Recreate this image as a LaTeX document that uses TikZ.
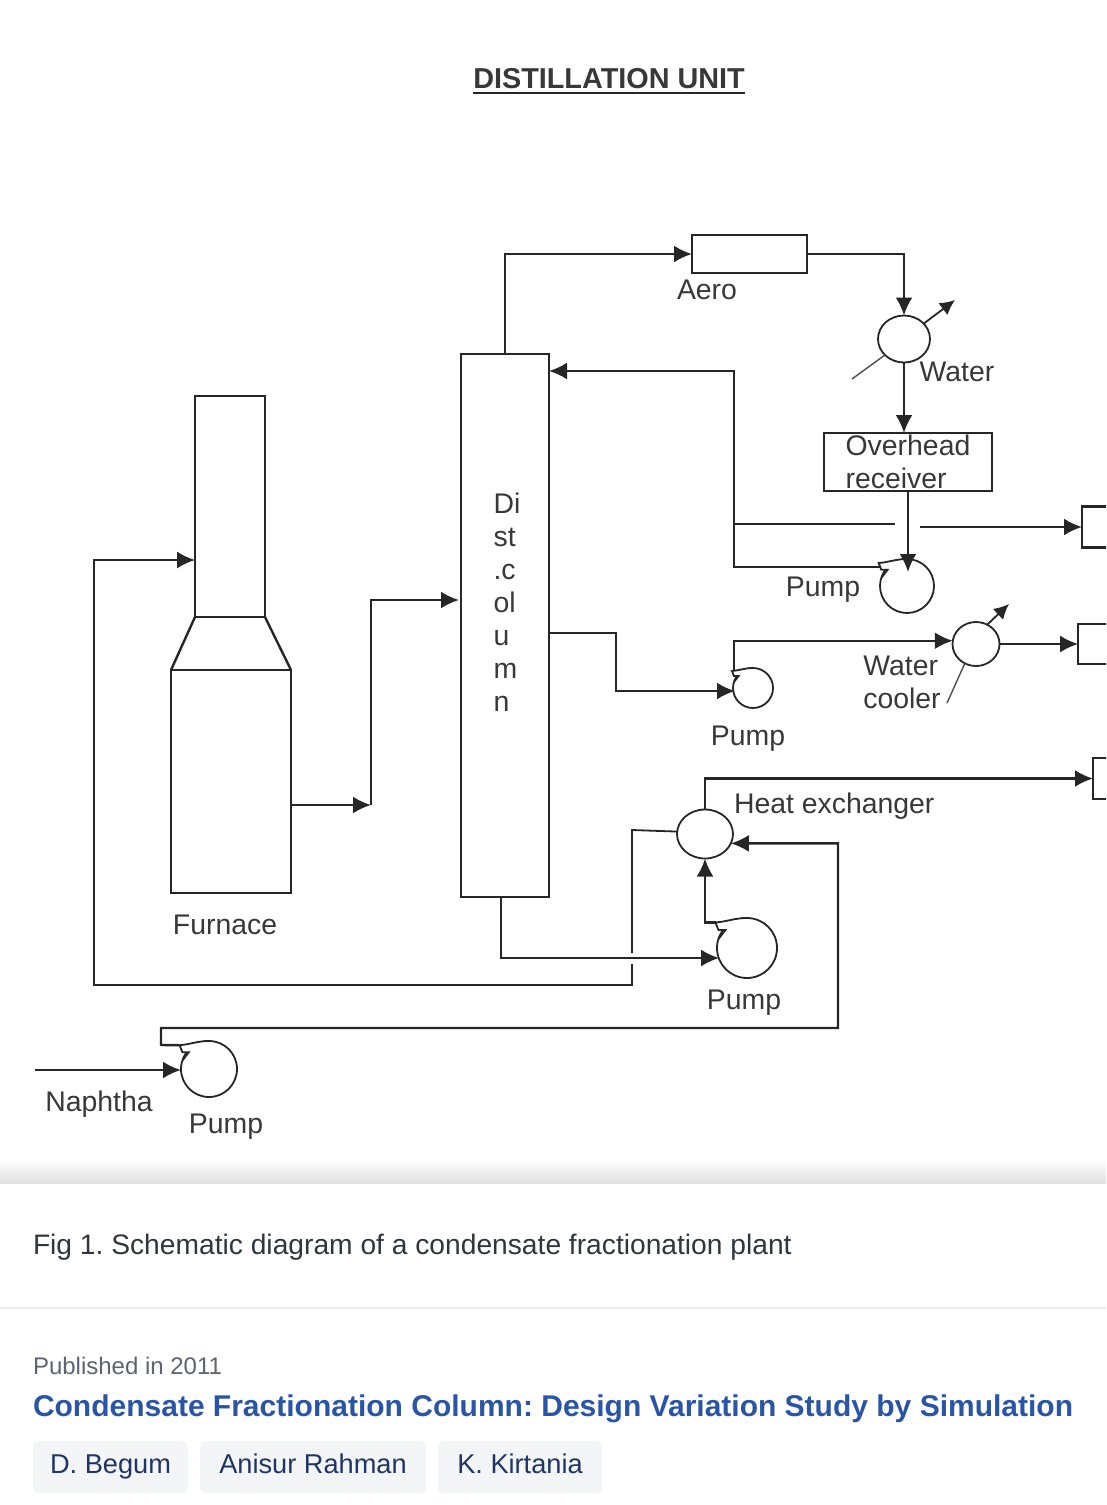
\documentclass[tikz,border=0pt]{standalone}
\usepackage{fontspec}
\setmainfont{Liberation Sans}
\usepackage{tikz}
\usetikzlibrary{arrows.meta,shapes.geometric}

\definecolor{inkgray}{HTML}{383838}
\definecolor{capgray}{HTML}{30363D}
\definecolor{pubgray}{HTML}{5B6470}
\definecolor{linkblue}{HTML}{2A55A5}
\definecolor{pillgray}{HTML}{F3F5F7}
\definecolor{pillink}{HTML}{1F3564}

\frenchspacing

\begin{document}
\begin{tikzpicture}[
    x=1pt,y=-1pt,
    line join=miter,
    every node/.style={inner sep=0pt,outer sep=0pt,text=inkgray,font=\fontsize{28.4}{33}\selectfont},
    unit/.style={draw=black!85,line width=2.4pt,rectangle},
    exch/.style={draw=black!85,line width=1.8pt,ellipse},
    pumpc/.style={draw=black!85,line width=1.8pt,circle},
    pipe/.style={draw=black!85,line width=2.4pt},
    flow/.style={pipe,-{Latex[length=18pt,width=17pt]}},
    vent/.style={draw=black!70,line width=1.4pt},
    caption/.style={anchor=west,text=capgray,font=\fontsize{28.2}{33}\selectfont},
    pill/.style={fill=pillgray,rounded corners=5pt,minimum height=52pt,text=pillink,text height=19pt,text depth=6pt,font=\fontsize{27.2}{33}\selectfont}
]
    \clip (0,0) rectangle (1106,1505);

    % heading
    \node[font=\fontsize{28.8}{33}\selectfont\bfseries] (title) at (609,79) {DISTILLATION UNIT};
    \draw[pipe] (473,93) -- (745,93);

    % units
    \node[unit,minimum width=115pt,minimum height=38pt] (aero) at (749.5,254) {};
    \node[unit,minimum width=168pt,minimum height=58pt,align=left] (recv) at (908,462) {Overhead\\receiver};
    \node[unit,minimum width=88pt,minimum height=543pt] (col) at (505,625.5) {};
    \node[align=left] (colname) at (507,602) {Di\\st\\.c\\ol\\u\\m\\n};
    \node[unit,minimum width=70pt,minimum height=221pt] (stack) at (230,506.5) {};
    \node[unit,minimum width=120pt,minimum height=223pt] (fire) at (231,781.5) {};
    \node[unit,anchor=west,minimum width=48pt,minimum height=41pt] (prodA) at (1082,527) {};
    \node[unit,anchor=west,minimum width=48pt,minimum height=40pt] (prodB) at (1078,644) {};
    \node[unit,anchor=west,minimum width=48pt,minimum height=41pt] (prodC) at (1093,778.5) {};

    \node[exch,minimum width=52pt,minimum height=47pt] (coolA) at (904,339) {};
    \node[exch,minimum width=47pt,minimum height=44pt] (coolB) at (976,644) {};
    \node[exch,minimum width=56pt,minimum height=49pt] (hx) at (705,834) {};

    \node[pumpc,minimum size=54pt] (pumpA) at (907,586) {};
    \node[pumpc,minimum size=40pt] (pumpB) at (753,688) {};
    \node[pumpc,minimum size=60pt] (pumpC) at (747,948) {};
    \node[pumpc,minimum size=56pt] (pumpD) at (209,1069) {};

    % pump nozzles
    \foreach \pmp/\xc/\yc/\rad in {pumpA/907/586/27,pumpB/753/688/20,pumpC/747/948/30,pumpD/209/1069/28}
    {
        \coordinate (\pmp tip) at (\xc-1.05*\rad,\yc-.85*\rad);
        \fill[white] (\pmp.90) -- (\pmp tip) -- (\xc-.95*\rad,\yc-.6*\rad) -- (\xc-.72*\rad,\yc-.6*\rad) -- (\xc-.95*\rad,\yc-.3*\rad) -- cycle;
        \draw[black!85,line width=1.8pt] (\pmp.90) to[out=180,in=5] (\pmp tip) -- (\xc-.95*\rad,\yc-.6*\rad) -- (\xc-.72*\rad,\yc-.6*\rad) -- (\xc-.95*\rad,\yc-.3*\rad);
    }

    % free ends and bends
    \coordinate (feedA) at (908,572);
    \coordinate (refluxS) at (880,567);
    \coordinate (refluxA) at (734,567);
    \coordinate (refluxB) at (734,371);
    \coordinate (refluxC) at (549,371);
    \coordinate (branchA) at (734,524);
    \coordinate (branchB) at (895,524);
    \coordinate (drawA) at (920,527);
    \coordinate (sideA) at (549,633);
    \coordinate (sideB) at (616,633);
    \coordinate (sideC) at (616,691);
    \coordinate (sideD) at (735,691);
    \coordinate (sideE) at (734,671);
    \coordinate (hotA) at (632,830);
    \coordinate (hotB) at (632,953);
    \coordinate (hotC) at (632,964);
    \coordinate (hotD) at (632,985);
    \coordinate (hotE) at (94,985);
    \coordinate (hotF) at (94,560);
    \coordinate (hotG) at (195,560);
    \coordinate (fireA) at (291,805);
    \coordinate (fireB) at (371,805);
    \coordinate (fireC) at (371,600);
    \coordinate (fireD) at (459,600);
    \coordinate (botA) at (501,897);
    \coordinate (botB) at (501,958);
    \coordinate (botC) at (719,958);
    \coordinate (feedB) at (161,1045);
    \coordinate (feedC) at (161,1028);
    \coordinate (feedD) at (838,1028);
    \coordinate (naph) at (35,1070);
    \coordinate (naphEnd) at (181,1070);
    \coordinate (wtrA) at (852,379);
    \coordinate (wtrB) at (955,300);
    \coordinate (wtrC) at (947,703);
    \coordinate (wtrD) at (1009,604);

    % piping
    \draw[flow] (col.north) |- (aero.west);
    \draw[flow] (aero.east) -| (coolA.north);
    \draw[flow] (coolA.south) -- (coolA.south |- recv.north);
    \draw[flow] (recv.south) -- (feedA);
    \draw[flow] (refluxS) -- (refluxA) -- (refluxB) -- (refluxC);
    \draw[pipe,line width=1.6pt] (branchA) -- (branchB);
    \draw[flow] (drawA) -- (prodA.west);
    \draw[flow] (sideA) -- (sideB) -- (sideC) -- (sideD);
    \draw[flow] (sideE) |- (coolB.172);
    \draw[flow,line width=1.8pt] (coolB.east) -- (prodB.west);
    \draw[flow] (hx.north) |- (prodC.west);
    \draw[pipe,line width=1.8pt] (hx.175) -- (hotA) -- (hotB);
    \draw[flow,line width=1.8pt] (hotC) -- (hotD) -- (hotE) -- (hotF) -- (hotG);
    \draw[flow] (fireA) -- (fireB);
    \draw[flow] (fireB) -- (fireC) -- (fireD);
    \draw[flow,line width=1.8pt] (botA) -- (botB) -- (botC);
    \draw[flow] (pumpCtip) -| (hx.south);
    \draw[flow] (pumpDtip) -- (feedB) -- (feedC) -- (feedD) |- (hx.-20);
    \draw[flow] (naph) -- (naphEnd);

    % furnace hood
    \draw[pipe] (stack.south west) -- (fire.north west) (stack.south east) -- (fire.north east);

    % cooling water
    \draw[vent] (wtrA) -- (coolA.220);
    \draw[flow,line width=1.8pt,-{Latex[length=15pt,width=15pt]}] (coolA.38) -- (wtrB);
    \draw[vent] (wtrC) -- (coolB.240);
    \draw[flow,line width=1.8pt,-{Latex[length=15pt,width=15pt]}] (coolB.60) -- (wtrD);

    % labels
    \node (lblAero) at (707,290) {Aero};
    \node (lblWater) at (957,372) {Water};
    \node (lblPumpA) at (823,590) {Pump};
    \node[align=left] (lblCooler) at (902,682) {Water\\cooler};
    \node (lblPumpB) at (748,739) {Pump};
    \node[anchor=west] (lblHeat) at (734,806) {Heat exchanger};
    \node (lblFurnace) at (225,925) {Furnace};
    \node (lblPumpC) at (744,1003) {Pump};
    \node (lblNaphtha) at (99,1104) {Naphtha};
    \node (lblPumpD) at (226,1127) {Pump};

    % figure strip below the drawing
    \shade[top color=white,bottom color=black!12] (0,1160) rectangle (1106,1183);
    \draw[black!8,line width=1.5pt] (0,1308) -- (1106,1308);
    \node[caption] (figcap) at (33,1247) {Fig 1. Schematic diagram of a condensate fractionation plant};
    \node[caption,text=pubgray,font=\fontsize{24}{30}\selectfont] (pubyear) at (33,1366) {Published in 2011};
    \node[caption,text=linkblue,font=\fontsize{30}{36}\selectfont\bfseries] (paper) at (33,1409) {Condensate Fractionation Column: Design Variation Study by Simulation};
    \node[pill,minimum width=155pt] (authA) at (110.5,1467) {D. Begum};
    \node[pill,minimum width=226pt] (authB) at (313,1467) {Anisur Rahman};
    \node[pill,minimum width=164pt] (authC) at (520,1467) {K. Kirtania};
\end{tikzpicture}
\end{document}
